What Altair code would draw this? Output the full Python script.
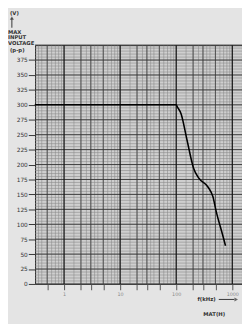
import altair as alt
import pandas as pd

# curve
freq_khz = [0.3, 10, 100, 104, 122, 155, 204, 249, 371, 452, 515, 673, 757]
max_vpp = [300, 300, 300, 297, 285, 242, 194, 178, 162, 146, 122, 82, 64]

y_labels = [0, 25, 50, 75, 100, 125, 150, 175, 200, 225, 250, 275, 300, 325, 350, 375]
y_major = [0, 25, 50, 75, 100, 125, 150, 175, 200, 225, 250, 275, 300, 325, 350, 375, 400]
y_minor = list(range(0, 401, 5))
x_major = [1, 10, 100, 1000]
x_minor = [m * d for d in [0.1, 1, 10, 100, 1000]
           for m in [1, 1.5, 2, 2.5, 3, 3.5, 4, 5, 6, 7, 8, 9]]
x_minor = [v for v in x_minor if 0.31 <= v <= 1480]
x_mid = [m * d for d in [0.1, 1, 10, 100, 1000] for m in [2, 3, 5]]
x_mid = [v for v in x_mid if 0.31 <= v <= 1480]

xs = alt.Scale(type="log", domain=[0.304, 1490], nice=False)
ys = alt.Scale(domain=[0, 400], nice=False)

x_axis = alt.Axis(values=x_mid + x_major, title=None, grid=False,
                  labelExpr="indexof([1,10,100,1000], datum.value) >= 0 ? format(datum.value, 'd') : ''",
                  labelFontSize=5, labelColor="#888888",
                  tickColor="#555555", tickSize=6, domain=False,
                  labelFont="DejaVu Sans")
y_axis = alt.Axis(values=y_labels, title=None, grid=False,
                  labelFontSize=6, labelColor="#333333",
                  tickColor="#333333", tickSize=7, domain=False,
                  labelPadding=1, labelFont="DejaVu Sans")

curve = pd.DataFrame({"f": freq_khz, "v": max_vpp})

def vrules(vals, color, width):
    return alt.Chart(pd.DataFrame({"f": vals})).mark_rule(
        color=color, strokeWidth=width).encode(
        x=alt.X("f:Q", scale=xs, axis=x_axis))

def hrules(vals, color, width):
    return alt.Chart(pd.DataFrame({"v": vals})).mark_rule(
        color=color, strokeWidth=width).encode(
        y=alt.Y("v:Q", scale=ys, axis=y_axis))

grid = [
    vrules(x_minor, "#8a8a8a", 0.6),
    hrules(y_minor, "#8a8a8a", 0.6),
    vrules(x_mid, "#444444", 0.9),
    hrules(y_major, "#333333", 0.9),
    vrules(x_major, "#111111", 1.2),
]

line = alt.Chart(curve).mark_line(
    color="#000000", strokeWidth=1.6, interpolate="monotone").encode(
    x=alt.X("f:Q", scale=xs, axis=x_axis),
    y=alt.Y("v:Q", scale=ys, axis=y_axis),
)

def txt(s, x, y, size=5.5, align="left"):
    return alt.Chart(pd.DataFrame({"t": [s]})).mark_text(
        align=align, baseline="middle", fontSize=size, color="#333333",
        font="DejaVu Sans", fontWeight="bold").encode(
        text="t:N", x=alt.value(x), y=alt.value(y))

annots = [
    txt("(V)", -26, -33),
    txt("MAX", -28, -14),
    txt("INPUT", -28, -8),
    txt("VOLTAGE", -28, -2),
    txt("(p-p)", -26, 5),
    txt("f(kHz)", 168, 263),
    txt("MAT(H)", 174, 278),
]

arrows = [
    alt.Chart(pd.DataFrame({"a": [0]})).mark_rule(color="#333333", strokeWidth=1).encode(
        x=alt.value(-24), y=alt.value(-18), y2=alt.value(-28)),
    alt.Chart(pd.DataFrame({"a": [0]})).mark_point(
        shape="triangle-up", filled=True, size=18, color="#333333").encode(
        x=alt.value(-24), y=alt.value(-28)),
    alt.Chart(pd.DataFrame({"a": [0]})).mark_rule(color="#333333", strokeWidth=1).encode(
        x=alt.value(190), x2=alt.value(206), y=alt.value(263)),
    alt.Chart(pd.DataFrame({"a": [0]})).mark_point(
        shape="triangle-right", filled=True, size=18, color="#333333").encode(
        x=alt.value(208), y=alt.value(263)),
]

chart = alt.layer(*grid, line, *annots, *arrows).properties(
    width=214, height=247,
    autosize=alt.AutoSizeParams(type="none"),
    padding={"left": 28, "top": 33, "right": 0, "bottom": 36},
    background="#e4e4e4",
).configure_view(fill="#cfcfcf", stroke="#222222", strokeWidth=1)

chart.save("out.html", embed_options={"renderer": "svg", "actions": False})
